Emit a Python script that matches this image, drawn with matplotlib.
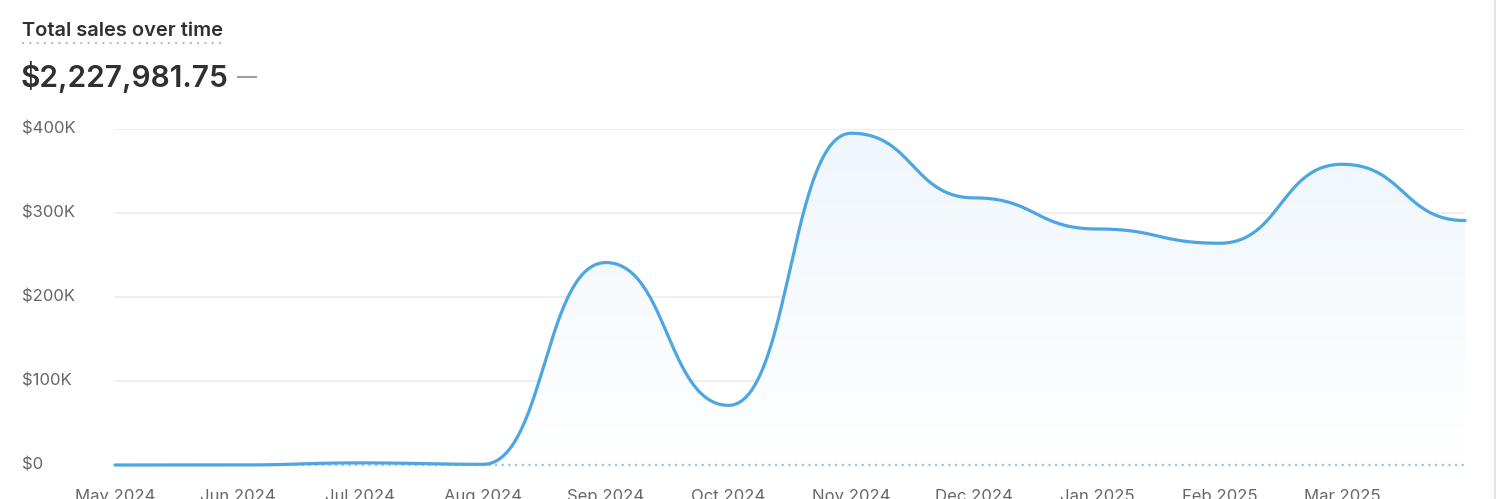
import numpy as np
import matplotlib
import matplotlib.pyplot as plt
from matplotlib.lines import Line2D

matplotlib.pyplot.switch_backend('Agg')
plt.rcParams['font.family'] = ['Inter', 'DejaVu Sans']

months = ['May 2024', 'Jun 2024', 'Jul 2024', 'Aug 2024', 'Sep 2024', 'Oct 2024',
          'Nov 2024', 'Dec 2024', 'Jan 2025', 'Feb 2025', 'Mar 2025', 'Apr 2025']
sales = [0, 0, 2500, 800, 241000, 71000, 395000, 318000, 281000, 264000, 358000, 291000]
previous = [0] * len(months)
y_ticks = [0, 100000, 200000, 300000, 400000]
y_labels = ['$0', '$100K', '$200K', '$300K', '$400K']
title = 'Total sales over time'
total = '$2,227,981.75'

LINE = '#4DA6E2'
GRID = '#EBEBEB'
TEXT = '#666666'


def bump(x, y, n=60):
    """bezier with flat control points between each pair, like d3 curveBumpX"""
    xs, ys = [], []
    for i in range(len(x) - 1):
        t = np.linspace(0, 1, n, endpoint=False)
        x0, x1, y0, y1 = x[i], x[i + 1], y[i], y[i + 1]
        xm = (x0 + x1) / 2
        b0, b1, b2, b3 = (1 - t)**3, 3 * t * (1 - t)**2, 3 * t**2 * (1 - t), t**3
        xs.append(b0 * x0 + b1 * xm + b2 * xm + b3 * x1)
        ys.append(b0 * y0 + b1 * y0 + b2 * y1 + b3 * y1)
    xs.append([x[-1]])
    ys.append([y[-1]])
    return np.concatenate(xs), np.concatenate(ys)


fig = plt.figure(figsize=(15, 4.99), dpi=100)
W, H = 1500, 499
ax = fig.add_axes([115 / W, 1 - 465 / H, 1350 / W, 336 / H])
ax.set_xlim(0, len(months) - 1)
ax.set_ylim(0, 400000)

xi = np.arange(len(months))
sx, sy = bump(xi, sales)

# gradient fill under the curve
poly = ax.fill_between(sx, sy, 0, color='none', lw=0)
grad = np.linspace(0, 1, 256).reshape(-1, 1)
cmap = matplotlib.colors.LinearSegmentedColormap.from_list('g', ['#FFFFFF', '#EFF6FC'])
img = ax.imshow(grad, cmap=cmap, aspect='auto', origin='lower',
                extent=[0, len(months) - 1, 0, 400000], zorder=1)
img.set_clip_path(poly.get_paths()[0], transform=ax.transData)

for v in y_ticks[1:]:
    ax.axhline(v, color=GRID, lw=1.2, zorder=0)

ax.plot(xi, previous, color='#9CC5E6', lw=1.6, ls=(0, (1, 2)), zorder=2, clip_on=False)
ax.plot(sx, sy, color=LINE, lw=2.3, zorder=3, clip_on=False, solid_capstyle='round')

ax.set_xticks(xi[:-1])
ax.set_xticklabels(months[:-1], fontsize=12, color=TEXT)
ax.tick_params(axis='x', length=0, pad=17)
ax.set_yticks([])
for sp in ax.spines.values():
    sp.set_visible(False)
ax.patch.set_alpha(0)

for v, lab in zip(y_ticks, y_labels):
    yy = ax.transData.transform((0, v))[1] / H
    fig.text(22 / W, yy, lab, ha='left', va='center', fontsize=12, color=TEXT)

fig.text(22 / W, 1 - 31 / H, title, ha='left', va='center', fontsize=14.4,
         fontweight='semibold', color='#303030')
fig.add_artist(Line2D([22 / W, 223 / W], [1 - 43 / H] * 2, color='#BDBDBD',
                      lw=1.5, ls=(0, (1, 2.5))))
fig.text(20 / W, 1 - 77 / H, total, ha='left', va='center', fontsize=21.5,
         fontweight='semibold', color='#303030')
fig.add_artist(Line2D([238 / W, 256 / W], [1 - 77 / H] * 2, color='#9E9E9E', lw=1.5))
fig.add_artist(Line2D([1495 / W, 1495 / W], [0, 1], color='#E3E3E3', lw=1.5))

plt.savefig('out.png', dpi=100)
plt.close()
